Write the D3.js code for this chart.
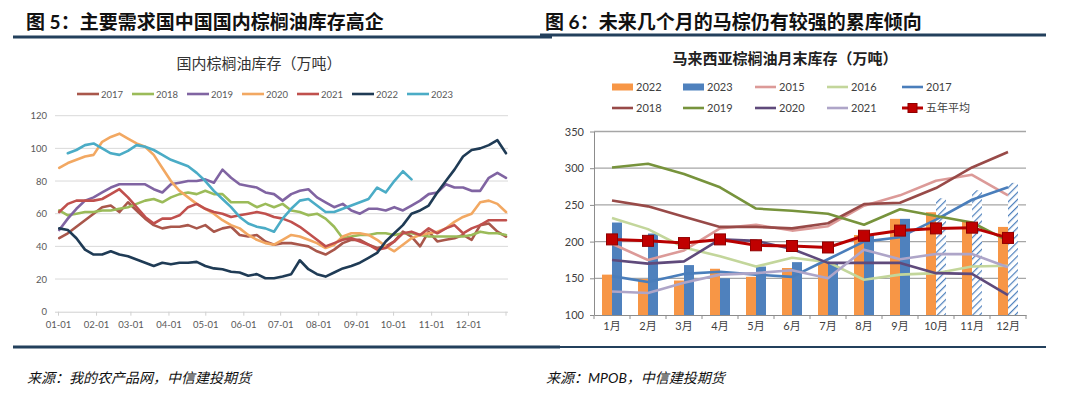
<!DOCTYPE html>
<html>
<head>
<meta charset="utf-8">
<script src="https://cdn.jsdelivr.net/npm/d3@7"></script>
<style>
  body { margin: 0; background: #fff; }
  svg text { font-family: Lato, "Noto Sans CJK SC", sans-serif; }
</style>
</head>
<body>
<svg id="chart" width="1080" height="398"></svg>
<script>
// ---------- Fig.5: China domestic palm oil stocks, weekly (10k t) ----------
const chinaYears = ['2017', '2018', '2019', '2020', '2021', '2022', '2023'];
const chinaColors = ['#a9574b', '#9bbb59', '#8064a2', '#f2a862', '#c0504d', '#1f3b55', '#4bacc6'];

const stock2017 = [45,48,52,56,60,64,65,61,67,62, 57,53,51,52,52,53,51,53,49,51, 52,47,46,47,43,41,42,42,41,40,
  37,35,38,42,44,44,41,39,40,43, 49,46,40,49,43,44,45,47,44,53, 54,49,46];
const stock2018 = [62,59,60,61,61,62,62,63,64,66, 68,69,67,70,72,73,72,74,72,72, 67,67,67,64,66,64,66,62,61,59,
  60,57,52,45,46,47,47,48,48,47, 48,48,47,46,46,46,46,46,47,49, 48,48,47];
const stock2019 = [50,57,63,68,70,73,76,78,78,78, 78,75,73,78,79,80,80,81,79,87, 82,78,77,76,73,72,68,72,74,75,
  70,67,64,66,62,60,63,63,62,64, 62,65,68,72,73,78,76,76,74,74, 82,85,82];
const stock2020 = [88,91,93,95,96,104,107,109,106,103, 101,96,88,80,74,70,66,63,60,56, 53,51,47,44,42,41,44,47,46,44,
  42,39,41,46,48,48,47,44,40,37, 41,45,47,48,49,51,55,58,60,67, 68,66,61];
const stock2021 = [61,66,68,68,68,69,72,75,70,64, 58,54,57,57,59,64,66,63,61,60, 58,59,60,61,60,58,57,55,52,48,
  44,40,42,44,45,43,41,38,39,43, 48,49,47,51,48,51,53,48,51,53, 56,56,56];
const stock2022 = [51,50,45,38,35,35,37,35,34,32, 30,28,30,29,30,30,30.5,28,26.5,26, 24.5,24,22,23,20.5,20.5,21.5,23,31.5,26,
  23,21.5,24,26.5,28,30,33,36,43,48, 53,60,62,65,73,80,87,95,99,100, 102,105,97];
const stock2023 = [null,97,99,102,103,100,97,96,98.5,102, 101,99,96,93,91,89,85,80,74,69, 64,58,54,52,51,49,57,63,68,69,
  65,61,61,63,65,67,69,76,73,80, 86,81,null,null,null,null,null,null,null,null, null,null,null];

const chinaSeries = [stock2017, stock2018, stock2019, stock2020, stock2021, stock2022, stock2023];
const chinaTicks = [0, 20, 40, 60, 80, 100, 120];
// weekly observation dates (one reference year, 7-day step)
const weekDates = d3.range(stock2022.length).map(i => d3.utcDay.offset(new Date(Date.UTC(2021, 0, 2)), i * 7));
const monthStarts = d3.utcMonths(new Date(Date.UTC(2021, 0, 1)), new Date(Date.UTC(2021, 11, 31)));

// ---------- Fig.6: Malaysia month-end palm oil stocks (10k t) ----------
const months = ['1月','2月','3月','4月','5月','6月','7月','8月','9月','10月','11月','12月'];
const bar2022 = [155,149,147,163,152,164,171,209,231,240,227,220];
const bar2023 = [226,211,168,150,166,172,172,210,231,259,270,280];
const forecastMonths = ['10月','11月','12月'];
const mal2015 = [197,175,188,218,223,215,221,249,263,283,291,263];
const mal2016 = [232,217,192,180,166,178,172,148,155,157,166,167];
const mal2017 = [153,145,156,159,155,152,176,200,206,230,257,274];
const mal2018 = [256,248,234,220,220,218,225,251,253,273,301,322];
const mal2019 = [301,306,292,274,245,242,238,223,244,235,226,201];
const mal2020 = [175,170,173,203,201,190,171,171,171,157,156,127];
const mal2021 = [132,130,144,155,157,161,150,189,176,183,183,165];
const avg5y   = [203,201,198,203,195,194,192,208,215,218,219,205];
const malTicks = [100, 150, 200, 250, 300, 350];

const malLines = [
  { name: '2015', values: mal2015, color: '#dc9a98' },
  { name: '2016', values: mal2016, color: '#c3d69b' },
  { name: '2017', values: mal2017, color: '#4a7ebb' },
  { name: '2018', values: mal2018, color: '#984a48' },
  { name: '2019', values: mal2019, color: '#77933c' },
  { name: '2020', values: mal2020, color: '#5f4a7b' },
  { name: '2021', values: mal2021, color: '#aea5c8' }
];

const svg = d3.select('#chart');

// ---------- headers and footers ----------
svg.append('text').attr('x', 26).attr('y', 29)
  .style('font-size', '19px').style('font-weight', 'bold').attr('fill', '#111')
  .text('图 5：主要需求国中国国内棕榈油库存高企');
svg.append('text').attr('x', 545).attr('y', 29)
  .style('font-size', '19px').style('font-weight', 'bold').attr('fill', '#111')
  .text('图 6：未来几个月的马棕仍有较强的累库倾向');

svg.append('line').attr('x1', 13).attr('x2', 552).attr('y1', 37).attr('y2', 37)
  .attr('stroke', '#23405c').attr('stroke-width', 3);
svg.append('line').attr('x1', 540).attr('x2', 1046).attr('y1', 35).attr('y2', 35)
  .attr('stroke', '#23405c').attr('stroke-width', 3);

svg.append('line').attr('x1', 13).attr('x2', 560).attr('y1', 347).attr('y2', 347)
  .attr('stroke', '#23405c').attr('stroke-width', 3);
svg.append('line').attr('x1', 560).attr('x2', 1046).attr('y1', 347).attr('y2', 347)
  .attr('stroke', '#23405c').attr('stroke-width', 2);

svg.append('text').attr('x', 27).attr('y', 383)
  .style('font-size', '14px').style('font-style', 'italic').attr('fill', '#111')
  .text('来源：我的农产品网，中信建投期货');
svg.append('text').attr('x', 546).attr('y', 383)
  .style('font-size', '14px').style('font-style', 'italic').attr('fill', '#111')
  .text('来源：MPOB，中信建投期货');

// ---------- left chart ----------
const left = svg.append('g');

left.append('text').attr('x', 259).attr('y', 69).attr('text-anchor', 'middle')
  .style('font-size', '15px').attr('fill', '#333')
  .text('国内棕榈油库存（万吨）');

const x1 = d3.scaleUtc()
  .domain([new Date(Date.UTC(2021, 0, 1)), new Date(Date.UTC(2022, 0, 1))])
  .range([58, 506]);
const y1 = d3.scaleLinear().domain([0, 120]).range([311.7, 115.7]);

// gridlines
left.append('g').selectAll('line')
  .data(chinaTicks.filter(d => d > 0))
  .enter().append('line')
  .attr('x1', 55).attr('x2', 508)
  .attr('y1', d => y1(d)).attr('y2', d => y1(d))
  .attr('stroke', '#d9d9d9').attr('stroke-width', 1);

// y labels
left.append('g').selectAll('text')
  .data(chinaTicks)
  .enter().append('text')
  .attr('x', 47).attr('y', d => y1(d) + 3.5)
  .attr('text-anchor', 'end')
  .style('font-size', '9.5px').attr('fill', '#595959')
  .text(d => d);

// x axis
const xAxis1 = d3.axisBottom(x1)
  .tickValues(monthStarts)
  .tickFormat(d3.utcFormat('%m-%d'))
  .tickSize(4).tickSizeOuter(0);
const gx1 = left.append('g').attr('transform', 'translate(0,' + y1(0) + ')').call(xAxis1);
gx1.select('.domain').attr('stroke', '#d0d0d0').attr('d', 'M55,0.5H508');
gx1.selectAll('.tick line').attr('stroke', '#d0d0d0');
gx1.selectAll('.tick text').attr('fill', '#595959').attr('dy', '0.95em')
  .style('font-size', '9.5px').style('font-family', 'Lato, sans-serif');
gx1.append('line').attr('x1', 506).attr('x2', 506).attr('y1', 0).attr('y2', 4)
  .attr('stroke', '#d0d0d0');

// lines
const line1 = d3.line()
  .defined(d => d[1] != null)
  .x(d => x1(d[0]))
  .y(d => y1(d[1]));

left.append('g').selectAll('path')
  .data(chinaSeries)
  .enter().append('path')
  .attr('d', s => line1(s.map((v, i) => [weekDates[i], v])))
  .attr('fill', 'none')
  .attr('stroke', (s, i) => chinaColors[i])
  .attr('stroke-width', 2.6)
  .attr('stroke-linejoin', 'round')
  .attr('stroke-linecap', 'round');

// legend
const leg1 = left.append('g').selectAll('g')
  .data(chinaYears)
  .enter().append('g')
  .attr('transform', (d, i) => 'translate(' + (77 + i * 55) + ',94)');
leg1.append('line').attr('x1', 0).attr('x2', 22).attr('y1', 0).attr('y2', 0)
  .attr('stroke', (d, i) => chinaColors[i]).attr('stroke-width', 2.6);
leg1.append('text').attr('x', 24).attr('y', 3.5)
  .style('font-size', '9.5px').attr('fill', '#595959')
  .text(d => d);

// ---------- right chart ----------
const right = svg.append('g');

right.append('text').attr('x', 785).attr('y', 64).attr('text-anchor', 'middle')
  .style('font-size', '15px').style('font-weight', 'bold').attr('fill', '#222')
  .text('马来西亚棕榈油月末库存（万吨）');

const x2 = d3.scaleBand().domain(months).range([594, 1026]).padding(0);
const y2 = d3.scaleLinear().domain([100, 350]).range([315, 131.5]);
const xb = d3.scaleBand().domain(['2022', '2023']).range([0, 20]);
const barOff = (x2.bandwidth() - 20) / 2;

// hatch pattern for forecast bars
const defs = svg.append('defs');
const pat = defs.append('pattern').attr('id', 'hatch')
  .attr('patternUnits', 'userSpaceOnUse').attr('width', 5).attr('height', 5)
  .attr('patternTransform', 'rotate(45)');
pat.append('rect').attr('width', 5).attr('height', 5).attr('fill', '#fff');
pat.append('line').attr('x1', 0).attr('x2', 0).attr('y1', 0).attr('y2', 5)
  .attr('stroke', '#4f81bd').attr('stroke-width', 2.4);

// gridlines
right.append('g').selectAll('line')
  .data(malTicks.filter(d => d > 100))
  .enter().append('line')
  .attr('x1', 594).attr('x2', 1026)
  .attr('y1', d => y2(d)).attr('y2', d => y2(d))
  .attr('stroke', '#a6a6a6').attr('stroke-width', 1.3);

// y axis
const yAxis2 = d3.axisLeft(y2).tickValues(malTicks).tickSize(4).tickSizeOuter(0);
const gy2 = right.append('g').attr('transform', 'translate(594,0)').call(yAxis2);
gy2.select('.domain').attr('stroke', '#8c8c8c');
gy2.selectAll('.tick line').attr('stroke', '#8c8c8c');
gy2.selectAll('.tick text').attr('fill', '#404040').attr('x', -10)
  .style('font-size', '11px').style('font-family', 'Lato, sans-serif');

// bars
right.append('g').selectAll('rect')
  .data(months)
  .enter().append('rect')
  .attr('x', m => x2(m) + barOff + xb('2022'))
  .attr('width', xb.bandwidth())
  .attr('y', (m, i) => y2(bar2022[i]))
  .attr('height', (m, i) => y2(100) - y2(bar2022[i]))
  .attr('fill', '#f79646');
right.append('g').selectAll('rect')
  .data(months)
  .enter().append('rect')
  .attr('x', m => x2(m) + barOff + xb('2023'))
  .attr('width', xb.bandwidth())
  .attr('y', (m, i) => y2(bar2023[i]))
  .attr('height', (m, i) => y2(100) - y2(bar2023[i]))
  .attr('fill', m => forecastMonths.includes(m) ? 'url(#hatch)' : '#4f81bd');

// x axis
const xAxis2 = d3.axisBottom(x2).tickSize(0).tickSizeOuter(0);
const gx2 = right.append('g').attr('transform', 'translate(0,315)').call(xAxis2);
gx2.select('.domain').attr('stroke', '#8c8c8c');
gx2.selectAll('.tick text').attr('fill', '#404040').attr('dy', '1.1em')
  .style('font-size', '11px');
right.append('g').selectAll('line')
  .data(months.concat(['end']))
  .enter().append('line')
  .attr('x1', (m, i) => 594 + i * x2.bandwidth())
  .attr('x2', (m, i) => 594 + i * x2.bandwidth())
  .attr('y1', 315).attr('y2', 319)
  .attr('stroke', '#8c8c8c');

// lines
const line2 = d3.line()
  .x((d, i) => x2(months[i]) + x2.bandwidth() / 2)
  .y(d => y2(d));

right.append('g').selectAll('path')
  .data(malLines)
  .enter().append('path')
  .attr('d', s => line2(s.values))
  .attr('fill', 'none')
  .attr('stroke', s => s.color)
  .attr('stroke-width', 2.6)
  .attr('stroke-linejoin', 'round');

right.append('path')
  .attr('d', line2(avg5y))
  .attr('fill', 'none')
  .attr('stroke', '#b80000')
  .attr('stroke-width', 3);
right.append('g').selectAll('rect')
  .data(avg5y)
  .enter().append('rect')
  .attr('x', (d, i) => x2(months[i]) + x2.bandwidth() / 2 - 5.5)
  .attr('y', d => y2(d) - 5.5)
  .attr('width', 11).attr('height', 11)
  .attr('fill', '#c00000').attr('stroke', '#900000').attr('stroke-width', 1);

// legend
const legItems = [
  { name: '2022', type: 'bar', color: '#f79646' },
  { name: '2023', type: 'bar', color: '#4f81bd' },
  ...malLines.map(d => ({ name: d.name, type: 'line', color: d.color })),
  { name: '五年平均', type: 'marker', color: '#c00000' }
];
const legX = [612, 683, 755, 827, 902];
const leg2 = right.append('g').selectAll('g')
  .data(legItems)
  .enter().append('g')
  .attr('transform', (d, i) => 'translate(' + legX[i % 5] + ',' + (i < 5 ? 87 : 108) + ')');
leg2.filter(d => d.type === 'bar').append('rect')
  .attr('x', 0).attr('y', -3.5).attr('width', 21).attr('height', 7)
  .attr('fill', d => d.color);
leg2.filter(d => d.type !== 'bar').append('line')
  .attr('x1', 0).attr('x2', 21).attr('y1', 0).attr('y2', 0)
  .attr('stroke', d => d.type === 'marker' ? '#b80000' : d.color)
  .attr('stroke-width', d => d.type === 'marker' ? 3 : 2.6);
leg2.filter(d => d.type === 'marker').append('rect')
  .attr('x', 6).attr('y', -4.5).attr('width', 9).attr('height', 9)
  .attr('fill', '#c00000').attr('stroke', '#900000');
leg2.append('text').attr('x', 24).attr('y', 4)
  .style('font-size', '11px').attr('fill', '#404040')
  .text(d => d.name);
</script>
</body>
</html>
